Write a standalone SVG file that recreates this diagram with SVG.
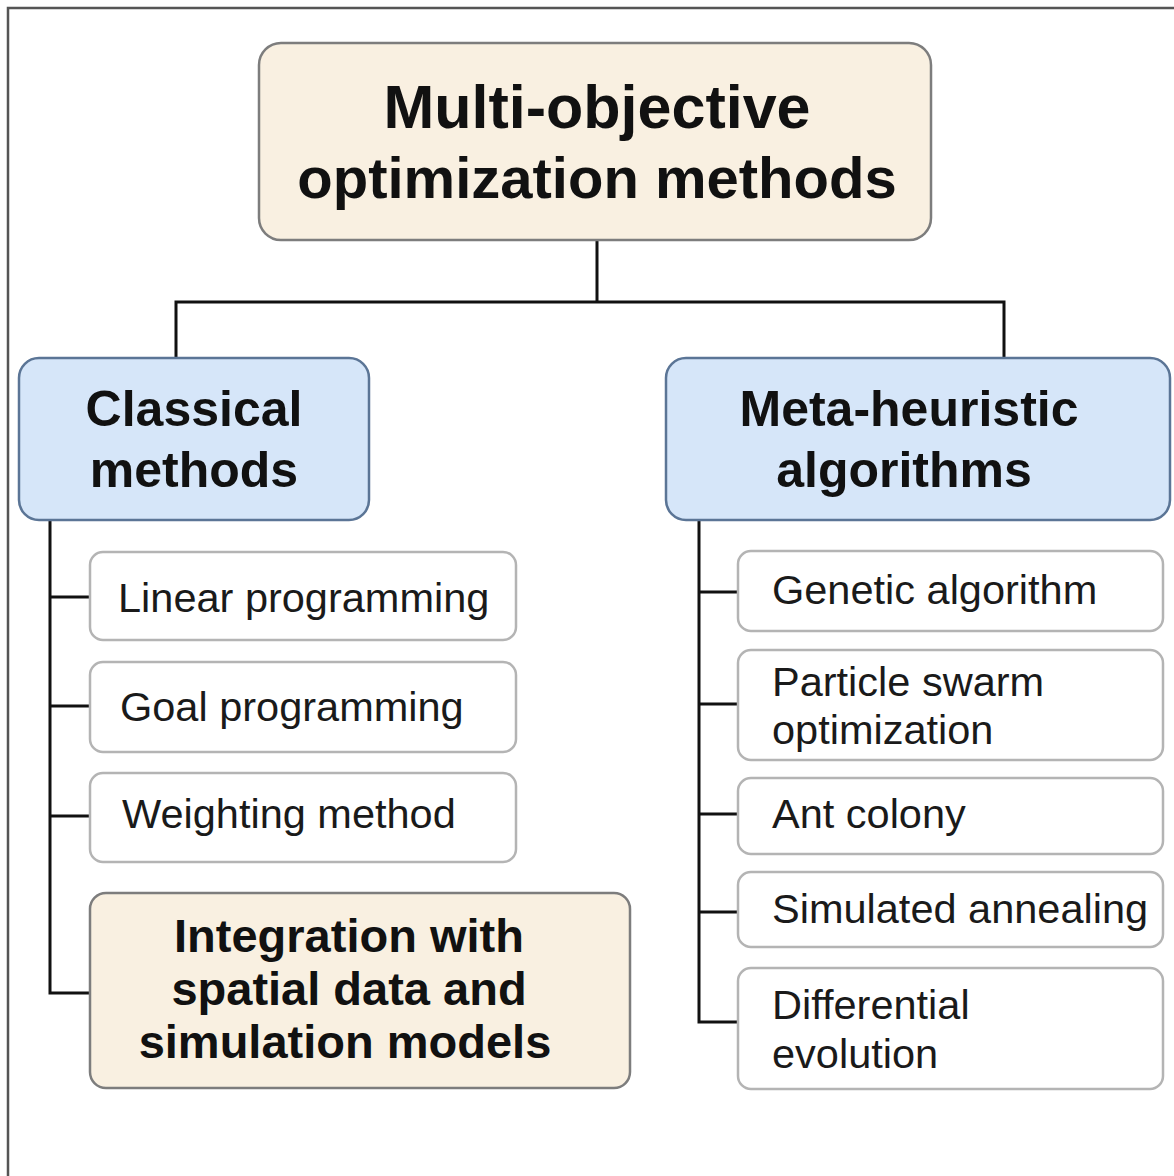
<svg xmlns="http://www.w3.org/2000/svg" width="1174" height="1176" viewBox="0 0 1174 1176">
<style>
.bg{fill:#ffffff}
.frame{fill:none;stroke:#555555;stroke-width:2.5}
.beige{fill:#f9f0e1;stroke:#7d7d7d;stroke-width:2.5}
.blue{fill:#d6e6f9;stroke:#5b7596;stroke-width:2.5}
.leaf{fill:#ffffff;stroke:#b4b4b4;stroke-width:2.5}
.conn{fill:none;stroke:#111111;stroke-width:3}
.h1{font-family:"Liberation Sans",Arial,sans-serif;font-weight:bold;font-size:58px;fill:#111111;text-anchor:middle}
.h2{font-family:"Liberation Sans",Arial,sans-serif;font-weight:bold;font-size:50px;fill:#111111;text-anchor:middle}
.h3{font-family:"Liberation Sans",Arial,sans-serif;font-weight:bold;font-size:47px;fill:#111111;text-anchor:middle}
.t{font-family:"Liberation Sans",Arial,sans-serif;font-size:41.5px;fill:#1a1a1a}
</style>
<rect class="bg" x="0" y="0" width="1174" height="1176"/>
<rect class="frame" x="8" y="8" width="1200" height="1200"/>

<g id="connectors">
  <path class="conn" d="M597,240 V302 M176,358 V302 H1004 V358"/>
  <path class="conn" d="M50,520 V993 H90 M50,597 H90 M50,706 H90 M50,816 H90"/>
  <path class="conn" d="M699,520 V1022 H738 M699,592 H738 M699,704 H738 M699,814 H738 M699,912 H738"/>
</g>

<g id="root">
  <rect class="beige" x="259" y="43" width="672" height="197" rx="22"/>
  <text class="h1" x="597" y="128" style="font-size:61px">Multi-objective</text>
  <text class="h1" x="597" y="198">optimization methods</text>
</g>

<g id="classical">
  <rect class="blue" x="19" y="358" width="350" height="162" rx="20"/>
  <text class="h2" x="194" y="426">Classical</text>
  <text class="h2" x="194" y="487">methods</text>
</g>

<g id="metaheuristic">
  <rect class="blue" x="666" y="358" width="504" height="162" rx="20"/>
  <text class="h2" x="909" y="426">Meta-heuristic</text>
  <text class="h2" x="904" y="487">algorithms</text>
</g>

<g id="linear">
  <rect class="leaf" x="90" y="552" width="426" height="88" rx="13"/>
  <text class="t" x="118" y="612">Linear programming</text>
</g>
<g id="goal">
  <rect class="leaf" x="90" y="662" width="426" height="90" rx="13"/>
  <text class="t" x="120" y="721">Goal programming</text>
</g>
<g id="weighting">
  <rect class="leaf" x="90" y="773" width="426" height="89" rx="13"/>
  <text class="t" x="122" y="828">Weighting method</text>
</g>
<g id="integration">
  <rect class="beige" x="90" y="893" width="540" height="195" rx="16"/>
  <text class="h3" x="349" y="952">Integration with</text>
  <text class="h3" x="349" y="1005">spatial data and</text>
  <text class="h3" x="345" y="1058">simulation models</text>
</g>

<g id="genetic">
  <rect class="leaf" x="738" y="551" width="425" height="80" rx="13"/>
  <text class="t" x="772" y="604">Genetic algorithm</text>
</g>
<g id="pso">
  <rect class="leaf" x="738" y="650" width="425" height="110" rx="13"/>
  <text class="t" x="772" y="696">Particle swarm</text>
  <text class="t" x="772" y="744">optimization</text>
</g>
<g id="ant">
  <rect class="leaf" x="738" y="778" width="425" height="76" rx="13"/>
  <text class="t" x="772" y="828">Ant colony</text>
</g>
<g id="annealing">
  <rect class="leaf" x="738" y="872" width="425" height="75" rx="13"/>
  <text class="t" x="772" y="923">Simulated annealing</text>
</g>
<g id="differential">
  <rect class="leaf" x="738" y="968" width="425" height="121" rx="13"/>
  <text class="t" x="772" y="1019">Differential</text>
  <text class="t" x="772" y="1068">evolution</text>
</g>
</svg>
